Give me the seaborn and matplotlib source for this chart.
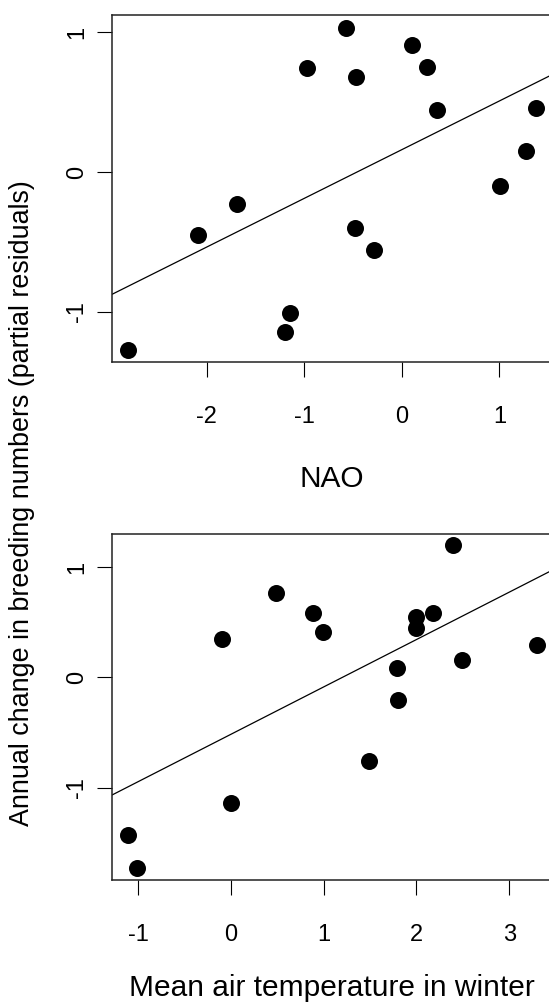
import pandas as pd
import matplotlib
matplotlib.use('Agg')
import matplotlib.pyplot as plt
import seaborn as sns

# top panel: NAO vs partial residuals
nao = [-2.81, -2.09, -1.69, -1.20, -1.15, -0.97, -0.57, -0.47, -0.48, -0.28,
       0.11, 0.26, 0.36, 1.01, 1.27, 1.38]
nao_resid = [-1.27, -0.45, -0.23, -1.14, -1.01, 0.74, 1.03, 0.68, -0.40, -0.56,
             0.91, 0.75, 0.44, -0.10, 0.15, 0.46]

# bottom panel: winter air temperature vs partial residuals
temp = [-1.11, -1.01, -0.10, 0.00, 0.49, 0.88, 0.99, 1.49, 1.79, 1.80,
        2.00, 2.00, 2.18, 2.39, 2.49, 3.30]
temp_resid = [-1.43, -1.73, 0.35, -1.14, 0.76, 0.58, 0.41, -0.76, 0.08, -0.21,
              0.55, 0.45, 0.58, 1.20, 0.16, 0.29]

nao_ticks = [-2, -1, 0, 1]
temp_ticks = [-1, 0, 1, 2, 3]
resid_ticks = [-1, 0, 1]

df_nao = pd.DataFrame({'x': nao, 'y': nao_resid})
df_temp = pd.DataFrame({'x': temp, 'y': temp_resid})

sns.set_style('white')
plt.rcParams['font.family'] = ['Liberation Sans', 'DejaVu Sans']
plt.rcParams['text.color'] = 'black'
plt.rcParams['axes.labelcolor'] = 'black'

fig = plt.figure(figsize=(5.49, 10.08), dpi=100)
W, H = 549, 1008
ax1 = fig.add_axes([112 / W, 1 - 362 / H, 440 / W, 347 / H])
ax2 = fig.add_axes([112 / W, 1 - 880 / H, 440 / W, 346.3 / H])

panels = [
    (ax1, df_nao, (-2.97, 1.54), (-1.357, 1.121), nao_ticks, 'NAO', 26),
    (ax2, df_temp, (-1.28, 3.46), (-1.838, 1.302), temp_ticks, 'Mean air temperature in winter', 20),
]

for ax, d, xl, yl, xt, xlab, lpad in panels:
    ax.set_xlim(xl)
    ax.set_ylim(yl)
    sns.regplot(data=d, x='x', y='y', ax=ax, ci=None, truncate=False,
                scatter_kws={'s': 150, 'color': 'black', 'linewidths': 0, 'alpha': 1},
                line_kws={'color': 'black', 'lw': 0.9})
    ax.set_xlim(xl)
    ax.set_ylim(yl)
    ax.set_xticks(xt)
    ax.set_xticklabels([str(v) for v in xt])
    ax.set_yticks(resid_ticks)
    ax.set_yticklabels([str(v) for v in resid_ticks], rotation=90, va='center')
    ax.tick_params(axis='x', direction='out', length=11, width=0.8, pad=21,
                   labelsize=17, bottom=True, colors='black')
    ax.tick_params(axis='y', direction='out', length=11, width=0.8, pad=6,
                   labelsize=17, left=True, colors='black')
    for s in ax.spines.values():
        s.set_color('#222222')
        s.set_linewidth(1.1)
    ax.set_xlabel(xlab, fontsize=21.5, labelpad=lpad)
    ax.set_ylabel('')

fig.text(22 / W, 1 - 503.5 / H, 'Annual change in breeding numbers (partial residuals)',
         rotation=90, ha='center', va='center', fontsize=19.4)

plt.savefig('out.png', dpi=100)
